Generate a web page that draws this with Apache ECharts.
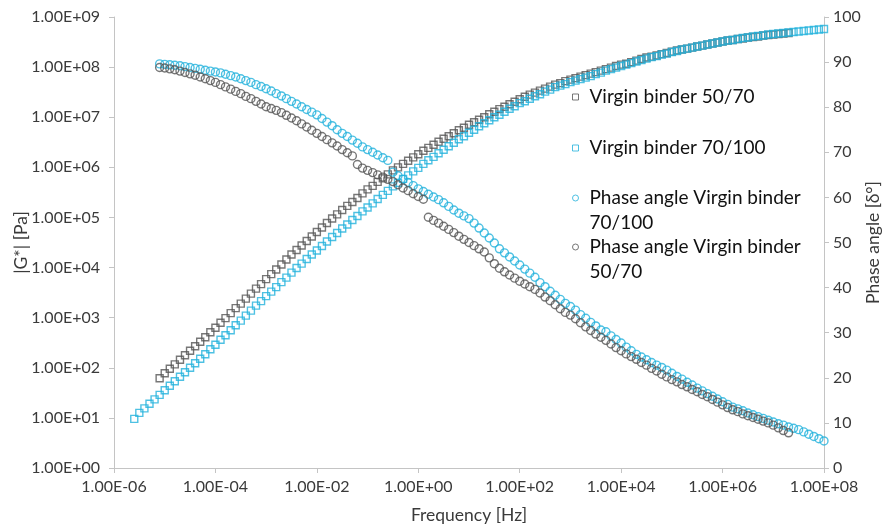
<!DOCTYPE html>
<html>
<head>
<meta charset="utf-8">
<title>Master curves of virgin binders</title>
<script src="https://cdn.jsdelivr.net/npm/echarts@6/dist/echarts.min.js"></script>
<style>
  html, body { margin: 0; padding: 0; background: #ffffff; }
  #chart { width: 882px; height: 528px; }
</style>
</head>
<body>
<div id="chart"></div>
<script>
// Reduced frequency of each measured point [Hz]
const freqHz = [
  2.51e-6, 3.16e-6, 3.98e-6, 5.01e-6, 6.31e-6, 7.94e-6,
  1.00e-5, 1.26e-5, 1.58e-5, 2.00e-5, 2.51e-5, 3.16e-5, 3.98e-5, 5.01e-5, 6.31e-5, 7.94e-5,
  1.00e-4, 1.26e-4, 1.58e-4, 2.00e-4, 2.51e-4, 3.16e-4, 3.98e-4, 5.01e-4, 6.31e-4, 7.94e-4,
  1.00e-3, 1.26e-3, 1.58e-3, 2.00e-3, 2.51e-3, 3.16e-3, 3.98e-3, 5.01e-3, 6.31e-3, 7.94e-3,
  1.00e-2, 1.26e-2, 1.58e-2, 2.00e-2, 2.51e-2, 3.16e-2, 3.98e-2, 5.01e-2, 6.31e-2, 7.94e-2,
  1.00e-1, 1.26e-1, 1.58e-1, 2.00e-1, 2.51e-1, 3.16e-1, 3.98e-1, 5.01e-1, 6.31e-1, 7.94e-1,
  1.00e0, 1.26e0, 1.58e0, 2.00e0, 2.51e0, 3.16e0, 3.98e0, 5.01e0, 6.31e0, 7.94e0,
  1.00e1, 1.26e1, 1.58e1, 2.00e1, 2.51e1, 3.16e1, 3.98e1, 5.01e1, 6.31e1, 7.94e1,
  1.00e2, 1.26e2, 1.58e2, 2.00e2, 2.51e2, 3.16e2, 3.98e2, 5.01e2, 6.31e2, 7.94e2,
  1.00e3, 1.26e3, 1.58e3, 2.00e3, 2.51e3, 3.16e3, 3.98e3, 5.01e3, 6.31e3, 7.94e3,
  1.00e4, 1.26e4, 1.58e4, 2.00e4, 2.51e4, 3.16e4, 3.98e4, 5.01e4, 6.31e4, 7.94e4,
  1.00e5, 1.26e5, 1.58e5, 2.00e5, 2.51e5, 3.16e5, 3.98e5, 5.01e5, 6.31e5, 7.94e5,
  1.00e6, 1.26e6, 1.58e6, 2.00e6, 2.51e6, 3.16e6, 3.98e6, 5.01e6, 6.31e6, 7.94e6,
  1.00e7, 1.26e7, 1.58e7, 2.00e7, 2.51e7, 3.16e7, 3.98e7, 5.01e7, 6.31e7, 7.94e7,
  1.00e8
];

// |G*| of virgin binder 50/70 [Pa] (null where no point was measured)
const modulus5070 = [
  null, null, null, null, null, 61.7,
  77.6, 95.5, 117, 145, 178, 219, 269, 331, 407, 513,
  631, 794, 977, 1.23e3, 1.55e3, 1.91e3, 2.40e3, 3.02e3, 3.80e3, 4.68e3,
  5.89e3, 7.41e3, 9.12e3, 1.15e4, 1.45e4, 1.82e4, 2.24e4, 2.75e4, 3.39e4, 4.17e4,
  5.13e4, 6.31e4, 7.76e4, 9.55e4, 1.15e5, 1.41e5, 1.70e5, 2.04e5, 2.45e5, 3.02e5,
  3.63e5, 4.27e5, 5.13e5, 6.03e5, 7.24e5, 8.71e5, 1.00e6, 1.17e6, 1.35e6, 1.58e6,
  1.82e6, 2.14e6, 2.45e6, 2.82e6, 3.24e6, 3.72e6, 4.17e6, 4.79e6, 5.50e6, 6.17e6,
  7.08e6, 7.94e6, 8.91e6, 1.00e7, 1.15e7, 1.29e7, 1.45e7, 1.62e7, 1.82e7, 2.04e7,
  2.29e7, 2.57e7, 2.82e7, 3.09e7, 3.39e7, 3.72e7, 4.07e7, 4.47e7, 4.79e7, 5.25e7,
  5.62e7, 6.03e7, 6.46e7, 6.92e7, 7.41e7, 7.94e7, 8.51e7, 9.12e7, 9.77e7, 1.05e8,
  1.12e8, 1.17e8, 1.26e8, 1.35e8, 1.45e8, 1.55e8, 1.62e8, 1.70e8, 1.82e8, 1.91e8,
  2.04e8, 2.14e8, 2.24e8, 2.34e8, 2.45e8, 2.57e8, 2.69e8, 2.82e8, 2.95e8, 3.09e8,
  3.24e8, 3.39e8, 3.47e8, 3.63e8, 3.72e8, 3.89e8, 3.98e8, 4.07e8, 4.27e8, 4.37e8,
  4.47e8, 4.57e8, 4.68e8, 4.79e8, null, null, null, null, null, null,
  null
];

// |G*| of virgin binder 70/100 [Pa]
const modulus70100 = [
  9.55, 12.6, 15.5, 19.1, 23.4, 28.8,
  35.5, 43.7, 53.7, 66.1, 81.3, 100, 123, 151, 186, 234,
  288, 363, 447, 562, 708, 871, 1.10e3, 1.38e3, 1.74e3, 2.14e3,
  2.69e3, 3.31e3, 4.07e3, 5.13e3, 6.31e3, 7.94e3, 9.77e3, 1.20e4, 1.48e4, 1.82e4,
  2.19e4, 2.69e4, 3.31e4, 4.07e4, 4.90e4, 6.03e4, 7.24e4, 8.91e4, 1.07e5, 1.32e5,
  1.58e5, 1.91e5, 2.34e5, 2.82e5, 3.39e5, 4.17e5, 4.90e5, 5.89e5, 6.92e5, 8.32e5,
  9.77e5, 1.17e6, 1.38e6, 1.62e6, 1.91e6, 2.24e6, 2.63e6, 3.09e6, 3.63e6, 4.17e6,
  4.90e6, 5.62e6, 6.61e6, 7.59e6, 8.71e6, 1.00e7, 1.12e7, 1.29e7, 1.48e7, 1.66e7,
  1.91e7, 2.09e7, 2.34e7, 2.63e7, 2.88e7, 3.24e7, 3.55e7, 3.98e7, 4.27e7, 4.57e7,
  5.01e7, 5.37e7, 5.75e7, 6.17e7, 6.61e7, 7.24e7, 7.76e7, 8.51e7, 9.12e7, 9.77e7,
  1.05e8, 1.12e8, 1.20e8, 1.29e8, 1.38e8, 1.48e8, 1.58e8, 1.66e8, 1.78e8, 1.86e8,
  2.00e8, 2.09e8, 2.24e8, 2.34e8, 2.45e8, 2.57e8, 2.69e8, 2.82e8, 2.95e8, 3.09e8,
  3.24e8, 3.39e8, 3.47e8, 3.63e8, 3.80e8, 3.89e8, 4.07e8, 4.17e8, 4.27e8, 4.47e8,
  4.57e8, 4.68e8, 4.79e8, 4.90e8, 5.01e8, 5.13e8, 5.25e8, 5.37e8, 5.50e8, 5.62e8,
  5.75e8
];

// Phase angle of virgin binder 70/100 [deg]
const phase70100 = [
  null, null, null, null, null, 89.6,
  89.5, 89.4, 89.3, 89.2, 89.0, 88.8, 88.6, 88.4, 88.2, 88.0,
  87.8, 87.6, 87.3, 87.0, 86.7, 86.3, 85.9, 85.5, 85.0, 84.6,
  84.1, 83.6, 83.0, 82.5, 81.9, 81.3, 80.7, 80.1, 79.5, 78.9,
  78.3, 77.5, 76.7, 75.9, 75.0, 74.2, 73.5, 72.7, 72.0, 71.2,
  70.6, 70.0, 69.4, 68.8, 68.2, 65.6, 64.8, 64.0, 63.3, 62.6,
  61.9, 61.3, 60.7, 60.1, 59.5, 58.8, 58.0, 57.2, 56.5, 55.9,
  55.3, 54.3, 53.2, 52.1, 51.0, 49.9, 48.6, 47.7, 46.8, 45.9,
  45.0, 44.1, 43.2, 42.3, 41.1, 40.2, 39.2, 38.3, 37.4, 36.5,
  35.8, 35.0, 34.0, 33.2, 32.3, 31.5, 30.6, 30.2, 29.3, 28.5,
  27.7, 26.8, 26.0, 25.2, 24.6, 24.0, 23.4, 22.8, 22.3, 21.7,
  21.0, 20.3, 19.7, 19.0, 18.4, 17.7, 17.1, 16.5, 15.9, 15.3,
  14.7, 14.1, 13.5, 13.1, 12.7, 12.2, 11.8, 11.4, 11.0, 10.6,
  10.2, 9.8, 9.5, 9.1, 8.8, 8.5, 8.0, 7.5, 7.0, 6.5,
  6.0
];

// Phase angle of virgin binder 50/70 [deg]
const phase5070 = [
  null, null, null, null, null, 88.8,
  88.7, 88.5, 88.3, 88.0, 87.7, 87.4, 87.1, 86.7, 86.3, 85.9,
  85.5, 85.0, 84.5, 84.0, 83.5, 83.0, 82.4, 81.9, 81.3, 80.7,
  80.1, 79.7, 79.3, 78.8, 78.2, 77.6, 77.0, 76.3, 75.6, 74.9,
  74.2, 73.5, 72.8, 72.1, 71.4, 70.6, 69.9, 69.2, 67.3, 66.5,
  66.0, 65.5, 65.0, 64.5, 64.0, 63.5, 62.8, 62.1, 61.5, 60.8,
  60.2, 59.6, 55.6, 54.9, 54.3, 53.6, 52.9, 52.2, 51.4, 50.7,
  50.0, 49.3, 48.6, 47.9, 46.6, 45.3, 44.3, 43.5, 42.8, 42.1,
  41.4, 40.8, 40.2, 39.6, 38.8, 37.9, 37.1, 36.2, 35.3, 34.5,
  33.9, 33.1, 32.2, 31.3, 30.5, 29.7, 29.0, 28.3, 27.5, 26.7,
  26.0, 25.3, 24.7, 24.1, 23.4, 22.8, 22.1, 21.5, 20.8, 20.2,
  19.6, 19.1, 18.5, 18.0, 17.4, 16.9, 16.3, 15.8, 15.2, 14.6,
  14.0, 13.4, 12.9, 12.5, 12.0, 11.6, 11.2, 10.8, 10.4, 10.0,
  9.5, 8.9, 8.3, 7.8, null, null, null, null, null, null,
  null
];

// tick positions of the frequency axis (every second decade) and of the modulus axis
const freqTicks = [1e-6, 1e-4, 1e-2, 1e0, 1e2, 1e4, 1e6, 1e8];
const modulusTicks = [1e0, 1e1, 1e2, 1e3, 1e4, 1e5, 1e6, 1e7, 1e8, 1e9];

const seriesNames = [
  'Virgin binder 50/70',
  'Virgin binder 70/100',
  'Phase angle Virgin binder 70/100',
  'Phase angle Virgin binder 50/70'
];

const GREY = '#555555';
const CYAN = '#22b2dc';
const FONT = 'Lato, "Open Sans", sans-serif';
const TEXT = '#3a3a3a';

// pair each frequency with a measured value, skipping gaps
function pairs(values) {
  const out = [];
  values.forEach((v, i) => { if (v != null) out.push([freqHz[i], v]); });
  return out;
}

// 1.00E+05 style labels
function sci(v) {
  const e = Math.round(Math.log10(v));
  const m = v / Math.pow(10, e);
  const a = Math.abs(e);
  return m.toFixed(2) + 'E' + (e < 0 ? '-' : '+') + (a < 10 ? '0' : '') + a;
}

function hollow(name, symbol, size, color, yIndex, values) {
  return {
    name: name,
    type: 'scatter',
    yAxisIndex: yIndex,
    symbol: symbol,
    symbolSize: size,
    itemStyle: { color: 'rgba(255,255,255,0)', borderColor: color, borderWidth: 1.4 },
    emphasis: { disabled: true },
    data: pairs(values)
  };
}

function legendEntry(name, icon, color, top, label) {
  return {
    data: [{ name: name, icon: icon, itemStyle: { color: 'rgba(255,255,255,0)', borderColor: color, borderWidth: 1 } }],
    left: 572,
    top: top,
    padding: 0,
    itemWidth: 6,
    itemHeight: 6,
    selectedMode: false,
    formatter: () => label,
    textStyle: { fontFamily: FONT, fontSize: 19, color: '#111', lineHeight: 25, padding: [0, 0, 0, 6] }
  };
}

const axisLineStyle = { lineStyle: { color: '#c4c4c4', width: 1 } };
const tickStyle = { show: true, inside: false, length: 5, lineStyle: { color: '#c4c4c4' } };
const labelFont = { fontFamily: FONT, fontSize: 16, color: TEXT };
const nameFont = { fontFamily: FONT, fontSize: 17.5, color: TEXT };

const chart = echarts.init(document.getElementById('chart'), null, { renderer: 'canvas' });
chart.setOption({
  backgroundColor: '#ffffff',
  animation: false,
  grid: { left: 114, right: 58, top: 17, bottom: 60, containLabel: false, outerBoundsMode: 'none' },
  legend: [
    legendEntry(seriesNames[0], 'rect', GREY, 84.5, 'Virgin binder 50/70'),
    legendEntry(seriesNames[1], 'rect', CYAN, 135.5, 'Virgin binder 70/100'),
    legendEntry(seriesNames[2], 'circle', CYAN, 160.5, '\nPhase angle Virgin binder\n70/100'),
    legendEntry(seriesNames[3], 'circle', GREY, 209.5, '\nPhase angle Virgin binder\n50/70')
  ],
  xAxis: {
    type: 'log',
    logBase: 10,
    min: 1e-6,
    max: 1e8,
    name: 'Frequency [Hz]',
    nameLocation: 'middle',
    nameGap: 38,
    nameMoveOverlap: false,
    nameTextStyle: nameFont,
    axisLine: axisLineStyle,
    axisTick: Object.assign({ customValues: freqTicks }, tickStyle),
    splitLine: { show: false },
    minorTick: { show: false },
    axisLabel: Object.assign({ customValues: freqTicks, margin: 11, formatter: sci }, labelFont)
  },
  yAxis: [
    {
      type: 'log',
      logBase: 10,
      min: 1,
      max: 1e9,
      name: '|G*| [Pa]',
      nameLocation: 'middle',
      nameRotate: 90,
      nameGap: 84,
      nameMoveOverlap: false,
      nameTextStyle: nameFont,
      axisLine: Object.assign({ show: true }, axisLineStyle),
      axisTick: Object.assign({ customValues: modulusTicks }, tickStyle),
      splitLine: { show: false },
      axisLabel: Object.assign({ customValues: modulusTicks, margin: 14, formatter: sci }, labelFont)
    },
    {
      type: 'value',
      min: 0,
      max: 100,
      interval: 10,
      position: 'right',
      name: 'Phase angle [δ°]',
      nameLocation: 'middle',
      nameRotate: 90,
      nameGap: 40,
      nameMoveOverlap: false,
      nameTextStyle: nameFont,
      axisLine: Object.assign({ show: true }, axisLineStyle),
      axisTick: tickStyle,
      splitLine: { show: false },
      axisLabel: Object.assign({ margin: 9 }, labelFont)
    }
  ],
  series: [
    hollow(seriesNames[0], 'rect', 7, GREY, 0, modulus5070),
    hollow(seriesNames[1], 'rect', 7, CYAN, 0, modulus70100),
    hollow(seriesNames[2], 'circle', 8, CYAN, 1, phase70100),
    hollow(seriesNames[3], 'circle', 8, GREY, 1, phase5070)
  ]
});
</script>
</body>
</html>
